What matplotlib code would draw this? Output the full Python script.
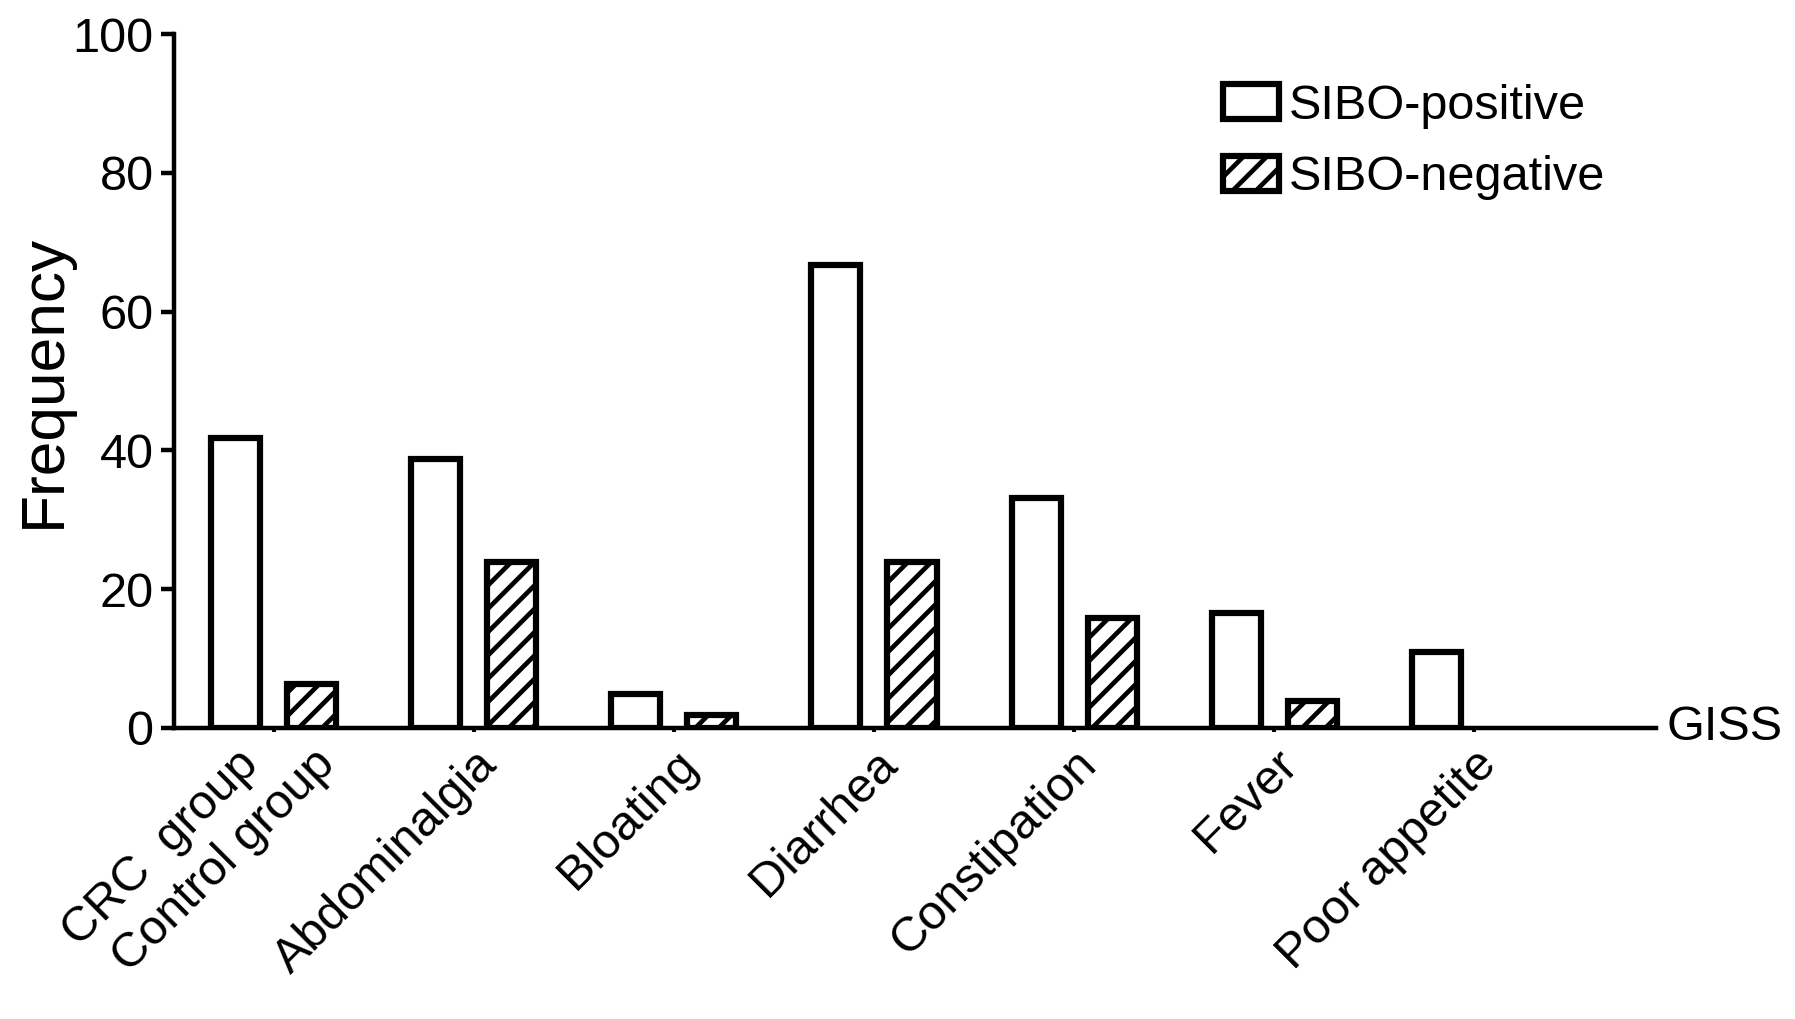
import matplotlib
matplotlib.use("Agg")
import matplotlib.pyplot as plt
import matplotlib.patches as mpatches
import numpy as np

plt.rcParams['font.family'] = ['Liberation Sans', 'DejaVu Sans']
plt.rcParams['hatch.linewidth'] = 2.4

# ---- data ----
groups = ["", "Abdominalgia", "Bloating", "Diarrhea", "Constipation", "Fever", "Poor appetite"]
first_group_labels = ["CRC  group", "Control group"]
sibo_positive = [41.8, 38.8, 4.9, 66.7, 33.2, 16.5, 10.9]
sibo_negative = [6.4, 23.9, 1.9, 23.9, 15.9, 3.9, 0.0]
series_names = ["SIBO-positive", "SIBO-negative"]
y_ticks = [0, 20, 40, 60, 80, 100]
end_label = "GISS"

DPI = 140
fig = plt.figure(figsize=(1795 / DPI, 1019 / DPI), dpi=DPI)
ax = fig.add_axes([0.0969, 0.2856, 0.9226 - 0.0969, 0.9666 - 0.2856])

x = np.arange(len(groups))
off = 0.19
w = 0.245
lw = 3.2
fs = 25

pos_vals = np.array(sibo_positive, dtype=float)
neg_vals = np.array(sibo_negative, dtype=float)
ax.bar(x - off, pos_vals, width=w, facecolor='white', edgecolor='black', linewidth=lw,
       label=series_names[0], zorder=2)
neg_mask = neg_vals > 0
ax.bar(x[neg_mask] + off, neg_vals[neg_mask], width=w, facecolor='white', edgecolor='black',
       linewidth=lw, hatch='//', label=series_names[1], zorder=2)

ax.set_xlim(-0.5, 6.91)
ax.set_ylim(0, 100)
ax.set_yticks(y_ticks)
ax.tick_params(axis='y', labelsize=fs, width=2.3, length=6.5, direction='out', pad=4)

# major ticks at group centres (marks only)
ax.xaxis.remove_overlapping_locs = False
ax.set_xticks(x)
ax.set_xticklabels([])
ax.tick_params(axis='x', which='major', width=2.0, length=2, direction='out')
# label positions as minor ticks
label_pos = [x[0] - off, x[0] + off] + list(x[1:])
label_txt = first_group_labels + groups[1:]
ax.set_xticks(label_pos, minor=True)
ax.set_xticklabels(label_txt, minor=True, rotation=45, ha='right', va='top',
                   rotation_mode='anchor', fontsize=fs)
ax.tick_params(axis='x', which='minor', length=0, pad=7)

for s in ['top', 'right']:
    ax.spines[s].set_visible(False)
for s in ['left', 'bottom']:
    ax.spines[s].set_linewidth(2.3)

ax.set_ylabel("Frequency", fontsize=32, labelpad=0)

ax.text(1.007, 0, end_label, transform=ax.transAxes, ha='left', va='center', fontsize=fs)

handles = [mpatches.Patch(facecolor='white', edgecolor='black', linewidth=lw),
           mpatches.Patch(facecolor='white', edgecolor='black', linewidth=lw, hatch='//')]
fig.legend(handles, series_names, loc='upper left', bbox_to_anchor=(0.6815, 0.918),
           frameon=False, fontsize=fs, handlelength=1.15, handleheight=0.72,
           handletextpad=0.2, labelspacing=0.55, borderpad=0, borderaxespad=0)

fig.savefig("out.png", dpi=DPI)
